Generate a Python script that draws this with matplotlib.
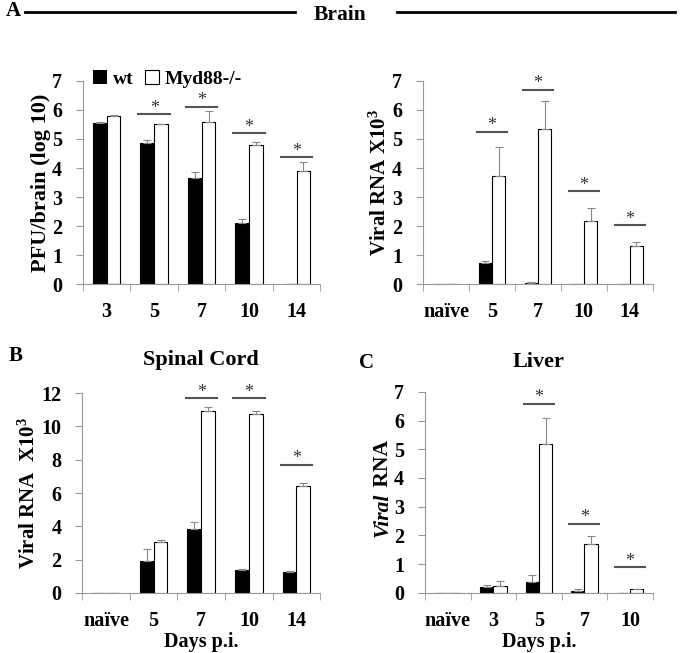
import numpy as np
import matplotlib.pyplot as plt

plt.rcParams['font.family'] = ['Liberation Serif', 'DejaVu Serif']
plt.rcParams['font.weight'] = 'bold'
plt.rcParams['axes.labelweight'] = 'bold'
plt.rcParams['axes.titleweight'] = 'bold'
plt.rcParams['font.size'] = 14
plt.rcParams['mathtext.fontset'] = 'custom'
plt.rcParams['mathtext.rm'] = 'Liberation Serif:bold'
plt.rcParams['mathtext.default'] = 'rm'

# Brain PFU
cats_a1 = ['3', '5', '7', '10', '14']
wt_a1 = [5.55, 4.87, 3.65, 2.1, 0.0]
wt_a1_err = [0.03, 0.1, 0.22, 0.15, 0.0]
ko_a1 = [5.8, 5.5, 5.6, 4.8, 3.9]
ko_a1_err = [0.02, 0.03, 0.35, 0.08, 0.3]
sig_a1 = [None, 5.85, 6.1, 5.2, 4.37]

# Brain viral RNA
cats_a2 = ['naïve', '5', '7', '10', '14']
wt_a2 = [0.0, 0.72, 0.05, 0.01, 0.01]
wt_a2_err = [0.0, 0.08, 0.02, 0.0, 0.0]
ko_a2 = [0.0, 3.72, 5.35, 2.18, 1.32]
ko_a2_err = [0.0, 1.0, 0.95, 0.45, 0.13]
sig_a2 = [None, 5.24, 6.7, 3.2, 2.03]

# Spinal cord
cats_b = ['naïve', '5', '7', '10', '14']
wt_b = [0.0, 1.9, 3.85, 1.38, 1.28]
wt_b_err = [0.0, 0.75, 0.4, 0.05, 0.03]
ko_b = [0.0, 3.05, 10.9, 10.75, 6.4]
ko_b_err = [0.0, 0.15, 0.25, 0.2, 0.2]
sig_b = [None, None, 11.7, 11.7, 7.7]

# Liver
cats_c = ['naïve', '3', '5', '7', '10']
wt_c = [0.0, 0.22, 0.38, 0.05, 0.0]
wt_c_err = [0.0, 0.05, 0.25, 0.07, 0.0]
ko_c = [0.0, 0.25, 5.17, 1.72, 0.12]
ko_c_err = [0.0, 0.15, 0.92, 0.27, 0.0]
sig_c = [None, None, 6.58, 2.4, 0.9]

fig = plt.figure(figsize=(6.8, 6.53), dpi=100)
axis_col = '#999999'


def panel(rect, cats, wt, wte, ko, koe, sig, ymax, ystep, ylabel, xlabel=None,
          ylsize=15):
    ax = fig.add_axes(rect)
    x = np.arange(len(cats))
    w = 0.29
    ax.bar(x - w / 2, wt, w, color='black', edgecolor='black', linewidth=0.8)
    ax.bar(x + w / 2, ko, w, color='white', edgecolor='black', linewidth=0.8)
    ekw = dict(fmt='none', ecolor='#888888', elinewidth=0.8, capsize=3, capthick=0.8)
    ax.errorbar(x - w / 2, wt, yerr=[np.zeros(len(wt)), wte], **ekw)
    ax.errorbar(x + w / 2, ko, yerr=[np.zeros(len(ko)), koe], **ekw)
    for xi, s in zip(x, sig):
        if s is None:
            continue
        ax.plot([xi - 0.33, xi + 0.33], [s, s], color='#555555', lw=1.5)
        ax.text(xi, s + ymax * 0.03, '*', ha='center', va='center',
                fontsize=13, fontweight='normal', color='#333333')
    ax.set_xlim(-0.5, len(cats) - 0.5)
    ax.set_ylim(0, ymax)
    ax.set_yticks(np.arange(0, ymax + 0.01, ystep))
    ax.set_xticks(x)
    ax.set_xticklabels(cats)
    ax.set_xticks(np.arange(-0.5, len(cats), 1), minor=True)
    ax.tick_params(axis='x', which='major', length=0, pad=13, labelsize=14.5)
    ax.tick_params(axis='x', which='minor', length=5, color=axis_col)
    ax.tick_params(axis='y', length=5, color=axis_col, labelsize=14.5, pad=10)
    for sp in ['top', 'right']:
        ax.spines[sp].set_visible(False)
    for sp in ['left', 'bottom']:
        ax.spines[sp].set_color(axis_col)
        ax.spines[sp].set_linewidth(0.8)
    if ylabel:
        ax.set_ylabel(ylabel, fontsize=ylsize, labelpad=1)
    if xlabel:
        ax.set_xlabel(xlabel, fontsize=14.5, labelpad=1)
    return ax


ax1 = panel([0.122, 0.565, 0.349, 0.311], cats_a1, wt_a1, wt_a1_err, ko_a1, ko_a1_err,
            sig_a1, 7, 1, 'PFU/brain (log 10)', ylsize=16)
ax1.bar([0], [0], color='black', label='wt')
ax1.bar([0], [0], color='white', edgecolor='black', linewidth=0.8, label='Myd88-/-')
h, l = ax1.get_legend_handles_labels()
ax1.legend(h[-2:], l[-2:], loc='upper left', bbox_to_anchor=(-0.03, 1.14), ncol=2,
           frameon=False, fontsize=14, handlelength=0.7, handleheight=0.7,
           handletextpad=0.3, columnspacing=0.6)

panel([0.622, 0.565, 0.338, 0.311], cats_a2, wt_a2, wt_a2_err, ko_a2, ko_a2_err,
      sig_a2, 7, 1, 'Viral RNA X10$^{3}$')

axb = panel([0.121, 0.092, 0.35, 0.306], cats_b, wt_b, wt_b_err, ko_b, ko_b_err,
            sig_b, 12, 2, 'Viral RNA  X10$^{3}$', 'Days p.i.')
axb.set_title('Spinal Cord', fontsize=16, pad=20)

axc = panel([0.625, 0.092, 0.335, 0.308], cats_c, wt_c, wt_c_err, ko_c, ko_c_err,
            sig_c, 7, 1, '', 'Days p.i.')
axc.text(-0.185, 0.5, 'Viral', rotation=90, transform=axc.transAxes, ha='center',
         va='top', fontsize=15.5, fontstyle='italic')
axc.text(-0.185, 0.5, ' RNA', rotation=90, transform=axc.transAxes, ha='center',
         va='bottom', fontsize=15.5)
axc.set_title('Liver', fontsize=16, pad=18)

# header and panel letters
fig.text(0.008, 0.983, 'A', fontsize=15, va='center')
fig.add_artist(plt.Line2D([0.037, 0.434], [0.981, 0.981], color='black', lw=2))
fig.text(0.5, 0.977, 'Brain', fontsize=15.5, ha='center', va='center')
fig.add_artist(plt.Line2D([0.584, 0.993], [0.981, 0.981], color='black', lw=2))
fig.text(0.012, 0.455, 'B', fontsize=15, va='center')
fig.text(0.528, 0.444, 'C', fontsize=15, va='center')

fig.savefig('out.png', dpi=100)
